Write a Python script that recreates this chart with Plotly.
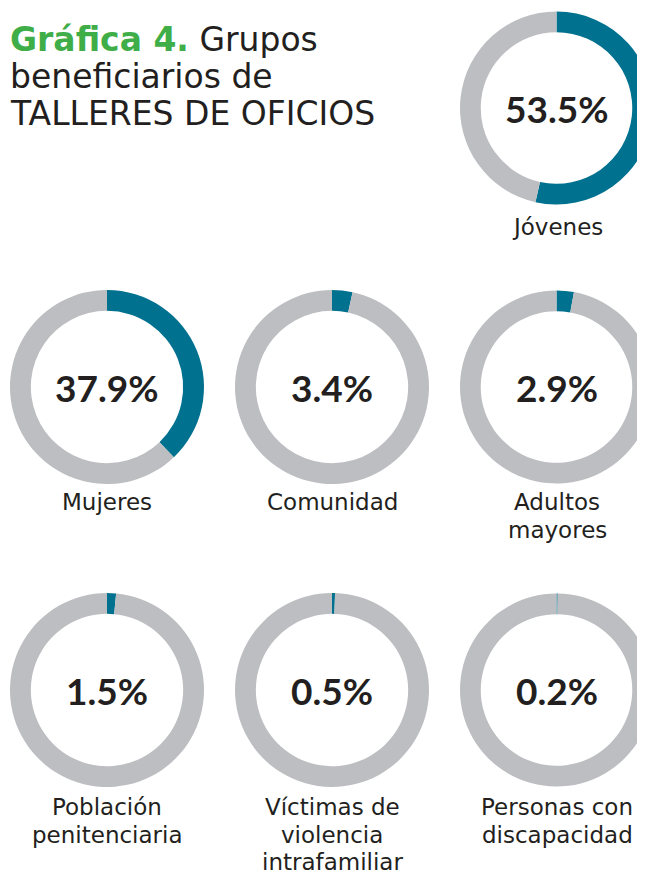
import plotly.graph_objects as go

W, H = 645, 873
OFF = 8  # page body margin compensation

groups = ["Jóvenes", "Mujeres", "Comunidad", "Adultos\nmayores",
          "Población\npenitenciaria", "Víctimas de\nviolencia\nintrafamiliar",
          "Personas con\ndiscapacidad"]
values = [53.5, 37.9, 3.4, 2.9, 1.5, 0.5, 0.2]
value_labels = ["53.5%", "37.9%", "3.4%", "2.9%", "1.5%", "0.5%", "0.2%"]

# layout positions (pixels in the reference): donut centers
centers = [(557, 108), (107, 387), (332, 387), (557, 387),
           (107, 690), (332, 690), (557, 690)]
label_first_baseline = [235, 510, 510, 510, 815, 815, 815]
R = 97
BLUE = "#00718f"
GREY = "#bdbec1"
TEXT = "#231f20"

fig = go.Figure()
ann = []

def px(x):
    return (x - OFF) / W

def py(y):
    return 1 - (y - OFF) / H

for g, v, vl, (cx, cy), lb in zip(groups, values, value_labels, centers, label_first_baseline):
    x0 = max(0, px(cx - R)); x1 = min(1, px(cx + R))
    y0 = max(0, py(cy + R)); y1 = min(1, py(cy - R))
    fig.add_trace(go.Pie(
        values=[v, 100 - v], labels=[g.replace("\n", " "), "Resto"], hole=0.785,
        sort=False, direction="clockwise", rotation=0,
        marker=dict(colors=[BLUE, GREY], line=dict(width=0)),
        textinfo="none", hoverinfo="label+percent", showlegend=False,
        domain=dict(x=[x0, x1], y=[y0, y1])
    ))
    ann.append(dict(x=px(cx), y=py(cy), xref="paper", yref="paper",
                    text=f"<b>{vl}</b>", showarrow=False,
                    font=dict(family="Lato", size=37, color=TEXT),
                    xanchor="center", yanchor="middle"))
    for i, line in enumerate(g.split("\n")):
        ann.append(dict(x=px(cx), y=py(lb + i * 27.5 - 8), xref="paper", yref="paper",
                        text=line, showarrow=False,
                        font=dict(family="DejaVu Sans", size=23, color=TEXT),
                        xanchor="center", yanchor="middle"))

title_lines = ["<b><span style='color:#3fae49'>Gráfica 4.</span></b> Grupos",
               "beneficiarios de", "TALLERES DE OFICIOS"]
for i, t in enumerate(title_lines):
    ann.append(dict(x=px(8), y=py(40 + i * 36.5), xref="paper", yref="paper",
                    text=t, showarrow=False,
                    font=dict(family="DejaVu Sans", size=33, color=TEXT),
                    xanchor="left", yanchor="middle"))

fig.update_layout(width=W, height=H, margin=dict(l=0, r=0, t=0, b=0),
                  paper_bgcolor="white", plot_bgcolor="white",
                  annotations=ann)
fig.write_html("out.html")
